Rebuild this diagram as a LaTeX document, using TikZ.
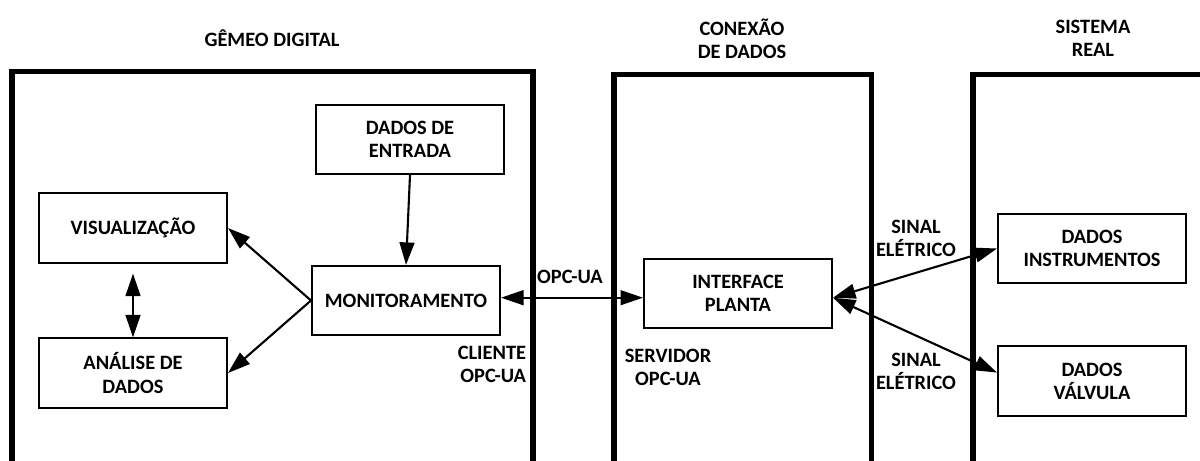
\documentclass[tikz,border=0pt]{standalone}
\usepackage{fontspec}
\setmainfont{Carlito}
\usetikzlibrary{arrows.meta}

\begin{document}
\begin{tikzpicture}[x=0.025cm,y=-0.025cm]
\tikzstyle{ligacao}=[->,>={Triangle[length=16pt,width=10.5pt]},line width=1.5pt]
\tikzstyle{dupla}=[<->,>={Triangle[length=16pt,width=10.5pt]},line width=1.5pt]
\tikzset{bloco/.style={draw,line width=1.4pt,minimum width=4.7cm,minimum height=1.73cm,align=center,font=\fontsize{14.5}{16.5}\selectfont\bfseries},
rotulo/.style={align=center,font=\fontsize{14.5}{16.5}\selectfont\bfseries},
moldura/.style={line width=3.8pt}}
\useasboundingbox (0,0) rectangle (1200,460);
\clip (0,0) rectangle (1200,460);

% quadros
\draw[moldura] (12,71.5) rectangle (533,490);
\draw[moldura] (614,74.5) rectangle (871.5,490);
\draw[moldura] (973,74.5) rectangle (1230,490);

\node[rotulo] (T1) at (272,38) {GÊMEO DIGITAL};
\node[rotulo] (T2) at (742,38.5) {CONEXÃO\\DE DADOS};
\node[rotulo] (T3) at (1093,38.5) {SISTEMA\\REAL};

% blocos
\node[bloco] (E) at (410,139.5) {DADOS DE\\ENTRADA};
\node[bloco] (V) at (133,228) {VISUALIZAÇÃO};
\node[bloco] (AD) at (133,373) {ANÁLISE DE\\DADOS};
\node[bloco] (M) at (406,300.5) {MONITORAMENTO};
\node[bloco] (I) at (738,293.5) {INTERFACE\\PLANTA};
\node[bloco] (DI) at (1092,248.5) {DADOS\\INSTRUMENTOS};
\node[bloco] (DV) at (1092,381) {DADOS\\VÁLVULA};

\node[rotulo] (L1) at (570,277) {OPC-UA};
\node[rotulo,anchor=east,align=right] (L2) at (531,364) {CLIENTE\\OPC-UA};
\node[rotulo] (L3) at (668,367) {SERVIDOR\\OPC-UA};
\node[rotulo] (L4) at (916,238.5) {SINAL\\ELÉTRICO};
\node[rotulo] (L5) at (916,371.5) {SINAL\\ELÉTRICO};

% ligacoes
\draw[ligacao] (E.south) -- (M.north);
\draw[ligacao] (M.west) -- (V.east);
\draw[ligacao] (M.west) -- (AD.east);
\draw[dupla,shorten <=0.25cm] (V.south) -- (AD.north);
\draw[dupla] ([yshift=2pt]M.east) -- ([yshift=2pt]M.east -| I.west);
\draw[dupla] ([yshift=-3pt]I.east) -- (DI.west);
\draw[dupla] ([yshift=-3pt]I.east) -- ([yshift=6pt]DV.west);

\end{tikzpicture}
\end{document}
